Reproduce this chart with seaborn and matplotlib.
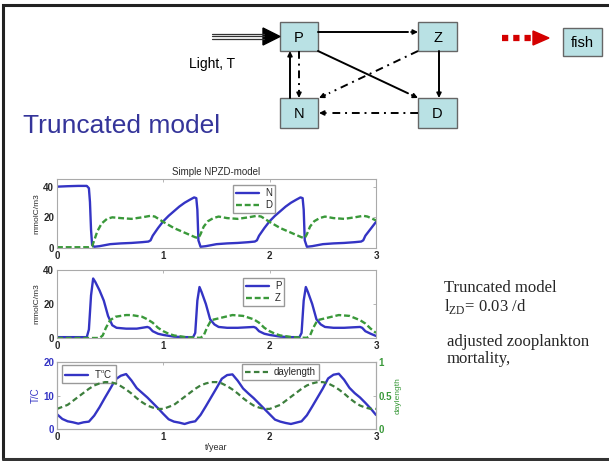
import matplotlib
matplotlib.use("Agg")
import matplotlib.pyplot as plt
import seaborn as sns
from matplotlib.patches import Rectangle, Polygon

# ---- values ----
t_N = [0, 0.1, 0.2, 0.28, 0.3, 0.31, 0.32, 0.33, 0.35, 0.4, 0.5, 0.6, 0.7, 0.8, 0.86,
       0.88, 0.9, 0.95, 1.0, 1.05, 1.1, 1.15, 1.2, 1.25, 1.29, 1.31, 1.32, 1.33, 1.35,
       1.4, 1.5, 1.6, 1.7, 1.8, 1.86, 1.88, 1.9, 1.95, 2.0, 2.05, 2.1, 2.15, 2.2, 2.25,
       2.29, 2.31, 2.32, 2.33, 2.35, 2.4, 2.5, 2.6, 2.7, 2.8, 2.86, 2.88, 2.9, 2.95, 3.0]
N = [40, 40.3, 40.5, 40.5, 39, 30, 12, 2, 0.8, 1.2, 2.5, 3, 3.3, 3.8, 4.2,
     5, 8, 13, 17.5, 21, 24, 27, 29.5, 31.5, 33, 32.5, 25, 5, 0.8,
     1.2, 2.5, 3, 3.3, 3.8, 4.2, 5, 8, 13, 17.5, 21, 24, 27, 29.5, 31.5,
     33, 32.5, 25, 5, 0.8, 1.2, 2.5, 3, 3.3, 3.8, 4.2, 5, 8, 12.5, 17]

t_D = [0, 0.3, 0.33, 0.35, 0.38, 0.42, 0.47, 0.52, 0.6, 0.7, 0.8, 0.88, 0.92, 1.0, 1.1,
       1.2, 1.3, 1.33, 1.35, 1.38, 1.42, 1.47, 1.52, 1.6, 1.7, 1.8, 1.88, 1.92, 2.0, 2.1,
       2.2, 2.3, 2.33, 2.35, 2.38, 2.42, 2.47, 2.52, 2.6, 2.7, 2.8, 2.88, 2.92, 3.0]
D = [0.5, 0.5, 1, 5, 11, 16, 19, 20, 19.5, 19, 20, 21, 20.5, 17, 13,
     10, 7, 6.5, 9, 14, 17.5, 19.5, 20.5, 19.5, 19, 20, 21, 20.5, 17, 13,
     10, 7, 6.5, 9, 14, 17.5, 19.5, 20.5, 19.5, 19, 20, 21, 20.5, 18]

t_P = [0, 0.28, 0.3, 0.32, 0.34, 0.36, 0.4, 0.44, 0.48, 0.52, 0.56, 0.65, 0.75, 0.85,
       0.87, 0.9, 0.95, 1.0, 1.1, 1.2, 1.28, 1.3, 1.32, 1.34, 1.36, 1.4, 1.44, 1.48,
       1.52, 1.6, 1.7, 1.85, 1.87, 1.9, 1.95, 2.0, 2.1, 2.2, 2.28, 2.3, 2.32, 2.34,
       2.36, 2.4, 2.44, 2.48, 2.52, 2.6, 2.7, 2.85, 2.87, 2.9, 2.95, 3.0]
P = [0.5, 0.5, 5, 25, 35, 33, 28, 22, 13, 7.5, 6, 5.5, 5.5, 6.5,
     6, 4, 2.5, 1.8, 0.8, 0.5, 0.5, 3, 22, 30, 27, 20, 11, 8,
     6.5, 6, 6, 6.5, 6, 4, 2.5, 1.8, 0.8, 0.5, 0.5, 3, 22, 30,
     27, 20, 11, 8, 6.5, 6, 6, 6.5, 6, 4, 2.5, 1.2]

t_Z = [0, 0.4, 0.43, 0.46, 0.5, 0.55, 0.6, 0.65, 0.7, 0.8, 0.85, 0.9, 0.95, 1.0, 1.05,
       1.1, 1.2, 1.3, 1.35, 1.38, 1.41, 1.45, 1.55, 1.65, 1.75, 1.85, 1.9, 1.95, 2.0,
       2.05, 2.1, 2.2, 2.3, 2.35, 2.38, 2.41, 2.45, 2.55, 2.65, 2.75, 2.85, 2.9, 2.95, 3.0]
Z = [0, 0, 1.5, 6, 10.5, 12.5, 13, 13.5, 13.5, 12.5, 11, 9, 6, 4, 2.5,
     1.5, 0.6, 0.2, 0.1, 1.5, 6, 10.5, 12, 13.5, 13, 11, 9, 6, 4,
     2.5, 1.5, 0.6, 0.2, 0.1, 1.5, 6, 10.5, 12, 13.5, 13, 10.5, 8.5, 5.5, 3]

t_env = [0.0, 0.05, 0.1, 0.15, 0.2, 0.25, 0.3, 0.35, 0.4, 0.45, 0.5, 0.55, 0.6, 0.65, 0.7,
         0.75, 0.8, 0.85, 0.9, 0.95, 1.0, 1.05, 1.1, 1.15, 1.2, 1.25, 1.3, 1.35, 1.4, 1.45,
         1.5, 1.55, 1.6, 1.65, 1.7, 1.75, 1.8, 1.85, 1.9, 1.95, 2.0, 2.05, 2.1, 2.15, 2.2,
         2.25, 2.3, 2.35, 2.4, 2.45, 2.5, 2.55, 2.6, 2.65, 2.7, 2.75, 2.8, 2.85, 2.9, 2.95, 3.0]
temp = [4.4, 3.0, 2.3, 2.0, 1.6, 2.0, 2.2, 4.0, 6.5, 9.3, 12.0, 14.8, 15.9, 16.4, 14.5,
        12.2, 10.8, 9.4, 7.8, 6.2,
        4.5, 2.9, 2.2, 1.9, 1.5, 2.0, 2.3, 4.2, 6.8, 9.5, 12.2, 15.0, 16.1, 16.3, 14.4,
        12.1, 10.6, 9.2, 7.6, 6.0,
        4.4, 2.8, 2.2, 1.8, 1.5, 1.9, 2.3, 4.1, 6.7, 9.4, 12.1, 15.1, 16.2, 16.5, 14.7,
        12.3, 10.7, 9.4, 7.8, 6.1, 4.2]
daylength = [0.30, 0.33, 0.36, 0.42, 0.48, 0.54, 0.60, 0.65, 0.68, 0.70, 0.70, 0.68, 0.64,
             0.59, 0.53, 0.46, 0.40, 0.35, 0.32, 0.30,
             0.30, 0.33, 0.36, 0.42, 0.48, 0.54, 0.60, 0.65, 0.68, 0.70, 0.70, 0.68, 0.64,
             0.59, 0.53, 0.46, 0.40, 0.35, 0.32, 0.30,
             0.30, 0.33, 0.36, 0.42, 0.48, 0.54, 0.60, 0.65, 0.68, 0.70, 0.70, 0.68, 0.64,
             0.59, 0.53, 0.46, 0.40, 0.35, 0.32, 0.30, 0.30]

x_ticks = [0, 1, 2, 3]

BLUE = '#3434c4'
GREEN = '#3a993a'
FRAME = '#aaaaaa'
TXT = '#2a2a2a'
BOXC = '#b9e1e4'

sns.set_style("white")
plt.rcParams['font.family'] = ['Liberation Sans', 'DejaVu Sans']
plt.rcParams['mathtext.fontset'] = 'custom'
plt.rcParams['mathtext.rm'] = 'Liberation Serif'

fig = plt.figure(figsize=(6.09, 4.61), dpi=100)

# background layer in pixel coordinates for the slide diagram
bg = fig.add_axes([0, 0, 1, 1])
bg.set_xlim(0, 609)
bg.set_ylim(461, 0)
bg.axis('off')

# slide frame (left, top, bottom)
bg.plot([3, 3, 609], [459, 5, 5], color='#222222', lw=2.2, solid_joinstyle='miter')
bg.plot([3, 609], [459, 459], color='#333333', lw=2.2)


def box(x0, y0, x1, y1, label):
    bg.add_patch(Rectangle((x0, y0), x1 - x0, y1 - y0, facecolor=BOXC,
                           edgecolor='#666666', lw=1))
    bg.text((x0 + x1) / 2, (y0 + y1) / 2 + 1, label, ha='center', va='center',
            fontsize=10.5, color='black')


def arrow(p0, p1, ls='-'):
    # line then a solid head at the end
    x0, y0 = p0
    x1, y1 = p1
    f = 0.9
    xm, ym = x0 + (x1 - x0) * f, y0 + (y1 - y0) * f
    bg.plot([x0, xm], [y0, ym], color='black', lw=1.4, ls=ls)
    d = ((x1 - x0) ** 2 + (y1 - y0) ** 2) ** 0.5
    hx, hy = x1 - (x1 - x0) / d * 7, y1 - (y1 - y0) / d * 7
    bg.annotate('', xy=(x1, y1), xytext=(hx, hy),
                arrowprops=dict(arrowstyle='-|>', color='black', lw=1.2,
                                mutation_scale=7, shrinkA=0, shrinkB=0))


DASHDOT = (0, (4, 2.5, 1, 2.5))

box(280, 22, 318, 51, 'P')
box(418, 22, 457, 51, 'Z')
box(280, 98, 318, 128, 'N')
box(418, 98, 457, 128, 'D')
box(563, 28, 602, 56, 'fish')

arrow((318, 32), (418, 32))
arrow((318, 51), (418, 98))
arrow((439, 51), (439, 98))
arrow((290, 98), (290, 51))
arrow((299, 51), (299, 98), ls=DASHDOT)
arrow((418, 51), (319, 98), ls=DASHDOT)
arrow((418, 113), (319, 113), ls=DASHDOT)

# light input: triple line + big head
for yy in (34, 36.5, 39):
    bg.plot([212, 264], [yy, yy], color='#333333', lw=0.9)
bg.add_patch(Polygon([[263, 28], [263, 45], [280, 36.5]], closed=True,
                     facecolor='black', edgecolor='black'))
bg.text(189, 64, 'Light, T', ha='left', va='center', fontsize=10, color='black')

# red dotted arrow to fish
bg.plot([502, 534], [38, 38], color='#d40000', lw=4.5, ls=(0, (1, 0.8)),
        solid_capstyle='butt', dash_capstyle='butt')
bg.add_patch(Polygon([[533, 31], [533, 45], [549, 38]], closed=True,
                     facecolor='#d40000', edgecolor='#d40000'))

bg.text(23, 133, 'Truncated model', ha='left', va='baseline', fontsize=19,
        color='#35359a')

# notes on the right
serif = ['Liberation Serif', 'DejaVu Serif']
bg.text(444, 292, 'Truncated model', family=serif, fontsize=12, va='baseline')
bg.text(444, 311, r'l$_{\mathrm{ZD}}$= 0.03 /d', family=serif, fontsize=12, va='baseline')
bg.text(447, 346, 'adjusted zooplankton', family=serif, fontsize=12, va='baseline')
bg.text(447, 363, 'mortality,', family=serif, fontsize=12, va='baseline')

# ---- chart panels ----
L, W = 57 / 609, 319 / 609
ax1 = fig.add_axes([L, 1 - 248 / 461, W, 69 / 461])
ax2 = fig.add_axes([L, 1 - 338 / 461, W, 68 / 461])
ax3 = fig.add_axes([L, 1 - 429 / 461, W, 67 / 461])
ax3r = ax3.twinx()


def style(ax, right=True):
    for s in ax.spines.values():
        s.set_color(FRAME)
        s.set_linewidth(0.8)
    ax.tick_params(direction='in', length=2.5, width=0.6, color=FRAME,
                   top=True, right=right, labelsize=7, labelcolor=TXT, pad=2)
    for lab in ax.get_xticklabels() + ax.get_yticklabels():
        lab.set_fontweight('bold')


sns.lineplot(x=t_N, y=N, ax=ax1, color=BLUE, lw=1.7, label='N')
sns.lineplot(x=t_D, y=D, ax=ax1, color=GREEN, lw=1.7, ls=(0, (2.5, 1.2)), label='D')
ax1.set_xlim(0, 3)
ax1.set_ylim(0, 45)
ax1.set_yticks([0, 20, 40])
ax1.set_xticks(x_ticks)
ax1.set_title('Simple NPZD-model', fontsize=7, color=TXT, pad=3)
ax1.set_ylabel('mmolC/m3', fontsize=6, color=TXT, labelpad=2)

sns.lineplot(x=t_P, y=P, ax=ax2, color=BLUE, lw=1.7, label='P')
sns.lineplot(x=t_Z, y=Z, ax=ax2, color=GREEN, lw=1.7, ls=(0, (2.5, 1.2)), label='Z')
ax2.set_xlim(0, 3)
ax2.set_ylim(0, 40)
ax2.set_yticks([0, 20, 40])
ax2.set_xticks(x_ticks)
ax2.set_ylabel('mmolC/m3', fontsize=6, color=TXT, labelpad=2)

sns.lineplot(x=t_env, y=temp, ax=ax3, color=BLUE, lw=1.7, label=r'T$^{\rm o}$C')
sns.lineplot(x=t_env, y=daylength, ax=ax3r, color='#3d7f3d', lw=1.6,
             ls=(0, (2.5, 1.5)), label='daylength')
ax3.set_xlim(0, 3)
ax3.set_ylim(0, 20)
ax3.set_yticks([0, 10, 20])
ax3.set_xticks(x_ticks)
ax3r.set_ylim(0, 1)
ax3r.set_yticks([0, 0.5, 1])
ax3r.set_yticklabels(['0', '0.5', '1'])
ax3.set_ylabel('T/C', fontsize=7, color=BLUE, labelpad=2)
ax3r.set_ylabel('daylength', fontsize=6, color=GREEN, labelpad=2)
ax3.set_xlabel('t/year', fontsize=6.5, color=TXT, labelpad=1)

for ax in (ax1, ax2):
    style(ax)
    ax.set_xlabel('')
style(ax3, right=False)
style(ax3r)
ax3r.tick_params(left=False, labelcolor=GREEN)
ax3.tick_params(axis='y', labelcolor=BLUE)

leg_kw = dict(fontsize=7, frameon=True, fancybox=False, edgecolor='#999999',
              handlelength=2.4, borderpad=0.3, labelspacing=0.2, handletextpad=0.6,
              borderaxespad=0, loc='upper left', framealpha=1)
ax1.legend(bbox_to_anchor=(0.552, 0.91), **leg_kw)
ax2.legend(bbox_to_anchor=(0.583, 0.88), **leg_kw)
ax3.legend(bbox_to_anchor=(0.016, 0.95), **leg_kw)
ax3r.legend(bbox_to_anchor=(0.58, 0.97), **leg_kw)

fig.savefig('out.png', dpi=100)
